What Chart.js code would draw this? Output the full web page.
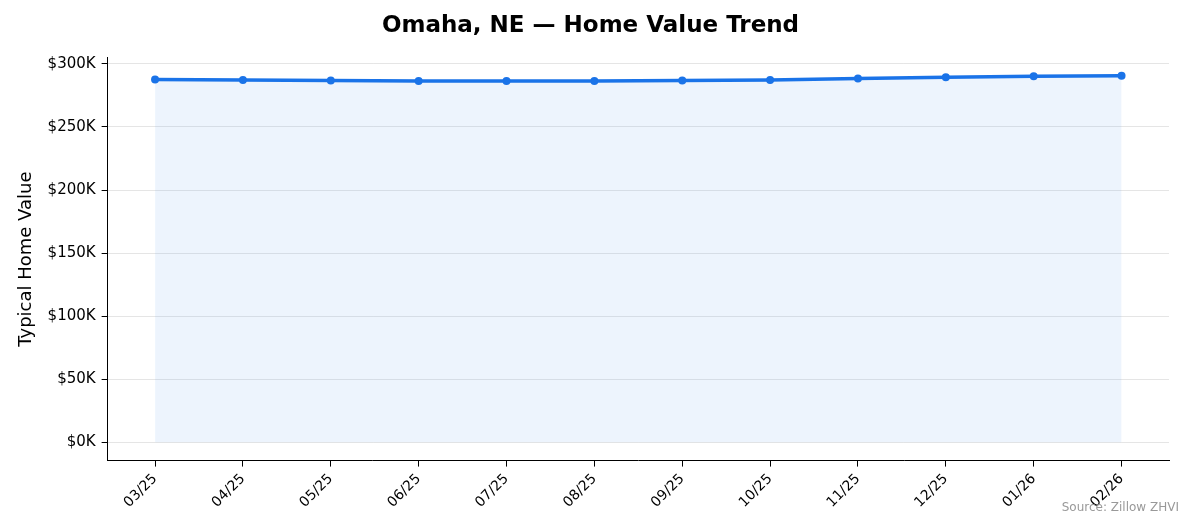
<!DOCTYPE html>
<html>
<head>
<meta charset="utf-8">
<script src="https://cdn.jsdelivr.net/npm/chart.js@4"></script>
<style>
  html, body { margin: 0; padding: 0; background: #fff; }
  #wrap { position: relative; width: 1194px; height: 529px; }
  #src { position: absolute; right: 15px; bottom: 15px; font: 12px "DejaVu Sans", sans-serif; color: #999; }
</style>
</head>
<body>
<div id="wrap">
  <canvas id="chart" width="1194" height="529"></canvas>
  <div id="src">Source: Zillow ZHVI</div>
</div>
<script>
const months = ['03/25', '04/25', '05/25', '06/25', '07/25', '08/25', '09/25', '10/25', '11/25', '12/25', '01/26', '02/26'];
const homeValues = [287700, 287300, 286900, 286500, 286400, 286500, 286900, 287300, 288500, 289400, 290200, 290700];
const yTicks = [0, 50000, 100000, 150000, 200000, 250000, 300000];

new Chart(document.getElementById('chart').getContext('2d'), {
  type: 'line',
  data: {
    datasets: [{
      data: homeValues.map((v, i) => ({ x: i, y: v })),
      borderColor: '#1a73e8',
      backgroundColor: 'rgba(26, 115, 232, 0.08)',
      borderWidth: 3.5,
      pointRadius: 4,
      pointBackgroundColor: '#1a73e8',
      pointBorderWidth: 0,
      fill: { target: { value: 0 } },
      tension: 0
    }]
  },
  options: {
    responsive: false,
    animation: false,
    layout: { padding: { left: 12, right: 25, top: 4, bottom: 14 } },
    plugins: {
      legend: { display: false },
      tooltip: { enabled: false },
      title: {
        display: true,
        text: 'Omaha, NE — Home Value Trend',
        color: '#000',
        font: { family: 'DejaVu Sans', size: 23, weight: 'bold' },
        padding: { top: 8, bottom: 18 }
      }
    },
    scales: {
      x: {
        type: 'linear',
        min: -0.54,
        max: 11.54,
        afterBuildTicks: axis => { axis.ticks = months.map((_, i) => ({ value: i })); },
        ticks: {
          callback: v => months[v],
          maxRotation: 45,
          minRotation: 45,
          color: '#000',
          padding: 4,
          font: { family: 'DejaVu Sans', size: 14 }
        },
        grid: { display: true, drawOnChartArea: false, tickColor: '#000', tickLength: 6 },
        border: { color: '#000', width: 1 }
      },
      y: {
        min: -14500,
        max: 305000,
        afterBuildTicks: axis => { axis.ticks = yTicks.map(v => ({ value: v })); },
        ticks: {
          callback: v => '$' + Math.round(v / 1000) + 'K',
          color: '#000',
          padding: 6,
          font: { family: 'DejaVu Sans', size: 15 }
        },
        grid: { color: 'rgba(0,0,0,0.1)', tickColor: '#000', tickLength: 6 },
        border: { color: '#000', width: 1 },
        title: { display: true, text: 'Typical Home Value', color: '#000', font: { family: 'DejaVu Sans', size: 18 } }
      }
    }
  }
});
</script>
</body>
</html>
